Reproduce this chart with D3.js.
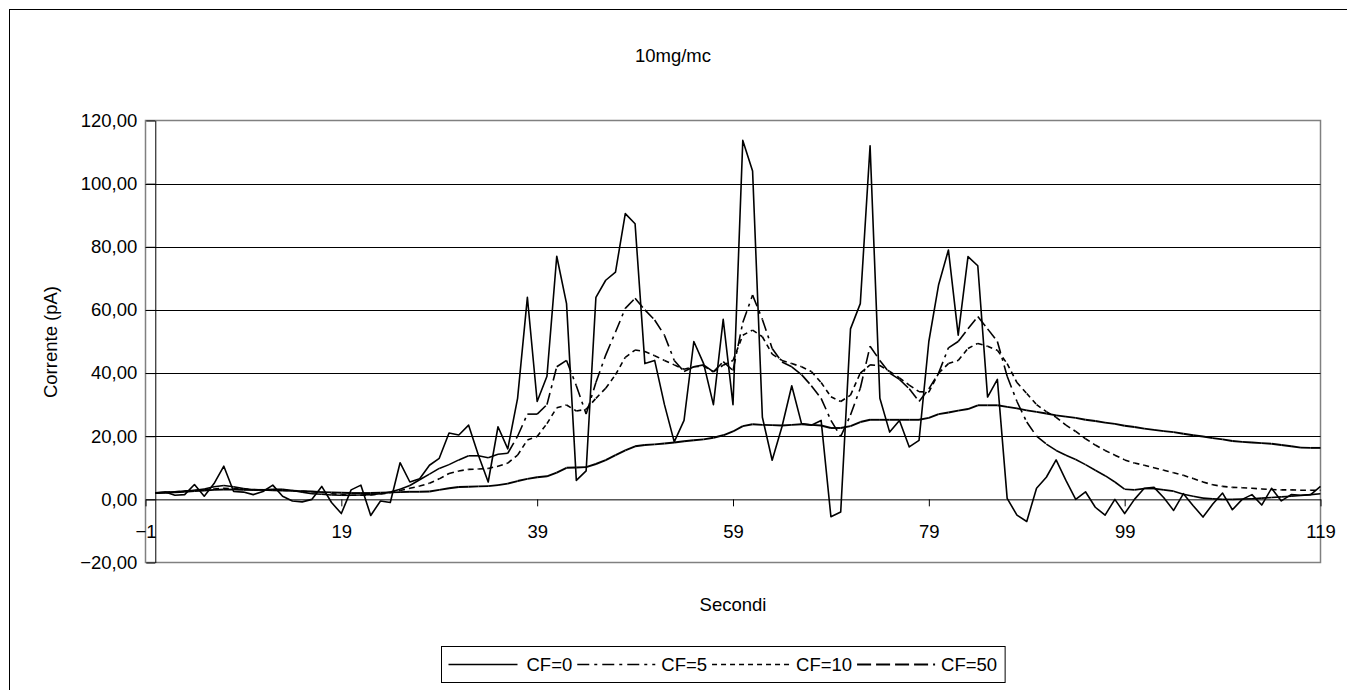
<!DOCTYPE html>
<html><head><meta charset="utf-8">
<script src="https://cdn.jsdelivr.net/npm/d3@7"></script>
<style>
body{margin:0;background:#fff}
svg{display:block}
text{font-family:"Liberation Sans",Arial,sans-serif;fill:#000}
</style>
</head><body>
<svg id="chart" width="1347" height="690"></svg>
<script>
// ---------- data ----------
const seconds = d3.range(0, 120);
const xTickValues = [-1, 19, 39, 59, 79, 99, 119];
const yTickValues = [-20, 0, 20, 40, 60, 80, 100, 120];
const seriesNames = ["CF=0", "CF=5", "CF=10", "CF=50"];

const cf0 = [
  2.1, 2.3, 1.3, 1.5, 4.7, 1.0, 5.0, 10.5, 2.5, 2.3,
  1.5, 2.5, 4.5, 1.0, -0.5, -0.8, 0, 4.1, -1, -4.5,
  3, 4.5, -5.1, -0.5, -1, 11.6, 5.5, 6.5, 10.8, 13,
  21, 20.4, 23.5, 14, 5.5, 23, 16, 32, 64, 31,
  39, 77, 62, 6, 9, 64, 69.4, 72, 90.5, 87.3,
  43, 44, 30, 18.2, 25, 50, 43, 30, 57, 30,
  113.7, 104, 26, 12.4, 23, 36, 24, 23.5, 25, -5.5,
  -4, 54, 62, 112, 32, 21.3, 25, 16.6, 18.7, 50,
  68, 79, 52, 76.9, 74, 32.4, 38, 0.3, -5, -7,
  3.5, 7, 12.5, 6, 0, 2.4, -2.5, -5, 0, -4.5,
  0, 3.5, 3.8, 0.5, -3.5, 1.8, -2, -5.6, -1.5, 2,
  -3.3, 0, 1.5, -1.8, 3.5, -0.5, 1.5, 1.3, 1.5, 4.1
];
const cf5 = [
  2.0, 2.2, 2.4, 2.6, 2.9, 3.3, 4.0, 4.4, 4.0, 3.4,
  3.0, 3.0, 3.2, 3.2, 2.8, 2.3, 1.8, 1.6, 1.4, 1.3,
  1.3, 1.4, 1.5, 1.8, 2.3, 3.2, 4.4, 6.2, 8.0, 9.8,
  11, 12.5, 13.8, 13.8, 13.2, 14.3, 14.6, 20, 27, 27,
  30, 42, 44, 36, 27, 37, 45.7, 53, 60.5, 63.7,
  60, 56.8, 52, 44, 40.5, 42, 42.6, 40.4, 43.6, 40.8,
  56, 64.7, 57, 47.8, 43.5, 42, 39.5, 36, 32, 25,
  19.9, 26.7, 35.2, 48.5, 44, 40, 38, 35, 31, 35,
  40, 48, 50, 54, 57.9, 54, 50, 39, 31, 24.5,
  20, 17.5, 15.5, 14, 12.6, 11, 9.2, 7.5, 5.5, 3.2,
  3, 3.4, 3.4, 3, 2.6, 1.6, 1.0, 0.4, 0.2, 0,
  0, 0.1, 0.2, 0.4, 0.6, 0.8, 1.0, 1.2, 1.5, 1.8
];
const cf10 = [
  2.0, 2.2, 2.4, 2.6, 2.8, 3.0, 3.3, 3.5, 3.4, 3.3,
  3.1, 3.0, 3.0, 2.9, 2.8, 2.6, 2.4, 2.2, 1.8, 1.5,
  1.3, 1.3, 1.4, 1.7, 2.1, 2.8, 3.5, 4.2, 5.1, 6.5,
  8.2, 9.0, 9.5, 9.6, 9.8, 10.5, 11.5, 14, 18.8, 19.9,
  24, 29, 29.9, 28, 28.5, 32, 35.2, 39.5, 45, 47.3,
  46.8, 45.5, 44, 42.6, 41.2, 42, 42.2, 40.4, 42.5, 44,
  52, 53.6, 51.5, 46, 44, 43, 42, 40.5, 37, 32.5,
  31, 33, 40, 42.6, 42.4, 40.5, 38.5, 36.2, 34.1, 34,
  40, 43, 44, 47.8, 49.4, 48.5, 47.2, 43, 37, 33.5,
  30, 27.8, 26, 23.5, 21.5, 19.2, 17.2, 15.5, 14, 12.5,
  11.5, 10.8, 10.0, 9.2, 8.4, 7.6, 6.6, 5.5, 4.6, 4.1,
  3.8, 3.7, 3.5, 3.3, 3.1, 3.0, 3.0, 2.9, 2.9, 2.9
];
const cf50 = [
  2.0, 2.1, 2.2, 2.4, 2.6, 2.8, 3.0, 3.1, 3.1, 3.0,
  3.0, 3.0, 2.9, 2.8, 2.7, 2.6, 2.5, 2.3, 2.2, 2.1,
  2.0, 2.0, 2.0, 2.1, 2.2, 2.3, 2.4, 2.4, 2.5, 3.0,
  3.5, 3.9, 4.0, 4.1, 4.2, 4.5, 5.0, 5.8, 6.5, 7.0,
  7.3, 8.5, 10, 10.1, 10.2, 11.2, 12.4, 14, 15.5, 16.8,
  17.2, 17.4, 17.7, 18.0, 18.4, 18.7, 19, 19.5, 20.3, 21.5,
  23.2, 23.8, 23.6, 23.5, 23.4, 23.6, 23.8, 23.6, 23.4, 22.6,
  22.6, 23.2, 24.5, 25.2, 25.2, 25.2, 25.2, 25.2, 25.2, 25.8,
  27, 27.5, 28.1, 28.6, 29.8, 29.8, 29.8, 29.3, 28.8, 28.2,
  27.7, 27.2, 26.6, 26.2, 25.8, 25.2, 24.8, 24.3, 23.9, 23.3,
  22.9, 22.4, 22.0, 21.6, 21.3, 20.8, 20.3, 19.9, 19.4, 19.0,
  18.5, 18.2, 18.0, 17.8, 17.6, 17.2, 16.8, 16.4, 16.3, 16.3
];

// ---------- chart ----------
const styles = {
  "CF=0":  {dash: null,        width: 1.6},
  "CF=5":  {dash: "12,5,3,5",  width: 1.6},
  "CF=10": {dash: "5,4",       width: 1.6},
  "CF=50": {dash: "14,5",      width: 1.9}
};
const seriesValues = {"CF=0": cf0, "CF=5": cf5, "CF=10": cf10, "CF=50": cf50};

const svg = d3.select("#chart");
const FS = 18.5;

// outer chart border
svg.append("rect").attr("x", 9.5).attr("y", 9.5).attr("width", 1345).attr("height", 700)
  .attr("fill", "#fff").attr("stroke", "#000").attr("stroke-width", 1);

const x = d3.scaleLinear().domain([-1, 119]).range([145.5, 1320.5]);
const y = d3.scaleLinear().domain([-20, 120]).range([562.5, 120.5]);

// plot area frame
svg.append("rect")
  .attr("x", x(-1)).attr("y", y(120))
  .attr("width", x(119) - x(-1)).attr("height", y(-20) - y(120))
  .attr("fill", "none").attr("stroke", "#808080").attr("stroke-width", 1.5);

// gridlines
svg.append("g").selectAll("line")
  .data(yTickValues.filter(v => v > 0 && v < 120))
  .join("line")
  .attr("x1", x(-1)).attr("x2", x(119))
  .attr("y1", d => Math.round(y(d)) + 0.5).attr("y2", d => Math.round(y(d)) + 0.5)
  .attr("stroke", "#000").attr("stroke-width", 1);

// y axis (crosses at x = 0)
const fmt = d => d3.format(".2f")(d).replace(".", ",");
const yAxis = svg.append("g")
  .attr("transform", `translate(${x(0)},0)`)
  .call(d3.axisLeft(y).tickValues(yTickValues).tickSize(9).tickSizeOuter(0).tickPadding(9).tickFormat(fmt));
yAxis.selectAll("text").style("font-size", FS + "px").style("font-family", "'Liberation Sans',Arial,sans-serif");
yAxis.selectAll("line,path").attr("stroke", "#000");

// x axis (crosses at y = 0)
const xAxis = svg.append("g")
  .attr("transform", `translate(0,${y(0)})`)
  .call(d3.axisBottom(x).tickValues(xTickValues).tickSize(7).tickSizeOuter(0).tickPadding(19).tickFormat(d3.format("d")));
xAxis.selectAll("text").style("font-size", FS + "px").style("font-family", "'Liberation Sans',Arial,sans-serif");
xAxis.selectAll("line,path").attr("stroke", "#000");

// series
const pointsOf = name => seconds.map((s, i) => [s, seriesValues[name][i]]);
const gLines = svg.append("g");
seriesNames.forEach(name => {
  const st = styles[name];
  const pts = pointsOf(name);
  if (!st.dash) {
    gLines.append("path")
      .attr("d", d3.line().x(d => x(d[0])).y(d => y(d[1]))(pts))
      .attr("fill", "none").attr("stroke", "#000")
      .attr("stroke-width", st.width).attr("stroke-linejoin", "round");
  } else {
    // dash pattern restarts on each segment (as in the original)
    const segs = d3.pairs(pts);
    gLines.append("g").selectAll("line").data(segs).join("line")
      .attr("x1", d => x(d[0][0])).attr("y1", d => y(d[0][1]))
      .attr("x2", d => x(d[1][0])).attr("y2", d => y(d[1][1]))
      .attr("stroke", "#000").attr("stroke-width", st.width)
      .attr("stroke-dasharray", st.dash);
  }
});

// title & axis labels
svg.append("text").attr("x", 673).attr("y", 62).attr("text-anchor", "middle")
  .style("font-size", FS + "px").text("10mg/mc");
svg.append("text").attr("transform", "translate(57,342) rotate(-90)").attr("text-anchor", "middle")
  .style("font-size", FS + "px").text("Corrente (pA)");
svg.append("text").attr("x", 733).attr("y", 611).attr("text-anchor", "middle")
  .style("font-size", FS + "px").text("Secondi");

// legend: entries flow left to right
const legendX = 441.5, legendY = 646.5, legendH = 36;
const lg = svg.append("g");
const box = lg.append("rect").attr("x", legendX).attr("y", legendY).attr("height", legendH)
  .attr("fill", "#fff").attr("stroke", "#000").attr("stroke-width", 1);
const midY = legendY + legendH / 2;
let cursor = legendX + 7;
seriesNames.forEach((name, i) => {
  const st = styles[name];
  const len = i === 0 ? 69 : 78;
  lg.append("line").attr("x1", cursor).attr("x2", cursor + len).attr("y1", midY).attr("y2", midY)
    .attr("stroke", "#000").attr("stroke-width", st.width)
    .attr("stroke-dasharray", st.dash || null);
  const textX = cursor + len + (i === 0 ? 9 : 6);
  const t = lg.append("text").attr("x", textX).attr("y", midY).attr("dy", "0.35em")
    .style("font-size", FS + "px").text(name);
  cursor = textX + t.node().getComputedTextLength() + 5;
});
box.attr("width", cursor + 3 - legendX);
</script>
</body></html>
